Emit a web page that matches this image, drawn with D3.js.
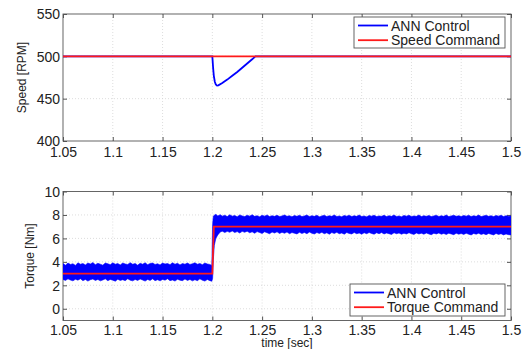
<!DOCTYPE html>
<html>
<head>
<meta charset="utf-8">
<script src="https://cdn.jsdelivr.net/npm/d3@7"></script>
<style>
  html, body { margin: 0; padding: 0; background: #fff; }
  svg { display: block; }
  text { font-family: "Liberation Sans", Arial, sans-serif; fill: #222; }
</style>
</head>
<body>
<svg id="chart" width="524" height="349"></svg>
<script>
// ---- data ----
const timeTicks = [1.05, 1.1, 1.15, 1.2, 1.25, 1.3, 1.35, 1.4, 1.45, 1.5];
const speedTicks = [400, 450, 500, 550];
const torqueTicks = [0, 2, 4, 6, 8, 10];

// Speed response of the ANN controller [time, rpm]
const speedAnn = [
  [1.05, 500], [1.2, 500], [1.2003, 495], [1.2008, 486], [1.2015, 477],
  [1.2025, 470], [1.2035, 466.8], [1.2047, 465.5], [1.206, 465.8],
  [1.21, 468.5], [1.215, 472.5], [1.22, 477], [1.225, 481.5],
  [1.23, 486.5], [1.235, 491.5], [1.24, 496.5], [1.2433, 500],
  [1.5, 500]
];
const speedCommand = [[1.05, 500], [1.5, 500]];

// Torque command [time, Nm]
const torqueCommand = [[1.05, 3], [1.2, 3], [1.2015, 7], [1.5, 7]];

// Envelope of the ripple on the ANN torque [time, low, high]
const torqueBand = [
  [1.05, 2.5, 3.85], [1.0525, 2.42, 3.72], [1.055, 2.55, 3.9], [1.0575, 2.45, 3.78],
  [1.06, 2.38, 3.84], [1.0625, 2.52, 3.7], [1.065, 2.44, 3.92], [1.0675, 2.56, 3.8],
  [1.07, 2.4, 3.86], [1.0725, 2.5, 3.74], [1.075, 2.36, 3.9], [1.0775, 2.48, 3.82],
  [1.08, 2.54, 3.94], [1.0825, 2.42, 3.76], [1.085, 2.5, 3.88], [1.0875, 2.38, 3.8],
  [1.09, 2.46, 3.72], [1.0925, 2.55, 3.9], [1.095, 2.4, 3.84], [1.0975, 2.5, 3.76],
  [1.1, 2.44, 3.92], [1.1025, 2.35, 3.8], [1.105, 2.52, 3.86], [1.1075, 2.42, 3.74],
  [1.11, 2.48, 3.9], [1.1125, 2.4, 3.82], [1.115, 2.56, 3.78], [1.1175, 2.44, 3.93],
  [1.12, 2.38, 3.8], [1.1225, 2.5, 3.86], [1.125, 2.42, 3.72], [1.1275, 2.54, 3.88],
  [1.13, 2.45, 3.8], [1.1325, 2.36, 3.92], [1.135, 2.5, 3.76], [1.1375, 2.42, 3.86],
  [1.14, 2.55, 3.9], [1.1425, 2.4, 3.78], [1.145, 2.48, 3.84], [1.1475, 2.38, 3.74],
  [1.15, 2.5, 3.9], [1.1525, 2.44, 3.82], [1.155, 2.56, 3.86], [1.1575, 2.4, 3.76],
  [1.16, 2.46, 3.92], [1.1625, 2.36, 3.8], [1.165, 2.52, 3.88], [1.1675, 2.44, 3.74],
  [1.17, 2.4, 3.86], [1.1725, 2.54, 3.8], [1.175, 2.42, 3.9], [1.1775, 2.5, 3.78],
  [1.18, 2.38, 3.84], [1.1825, 2.48, 3.92], [1.185, 2.4, 3.8], [1.1875, 2.55, 3.86],
  [1.19, 2.44, 3.76], [1.1925, 2.36, 3.9], [1.195, 2.5, 3.82], [1.1975, 2.4, 3.78],
  [1.1995, 2.35, 3.7],
  [1.2003, 2.6, 7.2], [1.201, 4.2, 7.9], [1.202, 5.4, 7.98], [1.2035, 6.0, 8.05],
  [1.2055, 6.3, 7.92], [1.208, 6.55, 8.02], [1.21, 6.62, 7.9],
  [1.2125, 6.5, 7.98], [1.215, 6.6, 7.86], [1.2175, 6.52, 8.02], [1.22, 6.64, 7.9],
  [1.2225, 6.5, 7.96], [1.225, 6.58, 7.84], [1.2275, 6.46, 8.0], [1.23, 6.6, 7.92],
  [1.2325, 6.52, 7.86], [1.235, 6.62, 7.98], [1.2375, 6.48, 7.9], [1.24, 6.56, 8.02],
  [1.2425, 6.44, 7.88], [1.245, 6.58, 7.94], [1.2475, 6.5, 7.84], [1.25, 6.42, 7.98],
  [1.2525, 6.56, 7.9], [1.255, 6.48, 8.0], [1.2575, 6.4, 7.86], [1.26, 6.54, 7.94],
  [1.2625, 6.46, 7.88], [1.265, 6.56, 7.98], [1.2675, 6.42, 7.86], [1.27, 6.52, 7.92],
  [1.2725, 6.44, 8.0], [1.275, 6.55, 7.88], [1.2775, 6.4, 7.94], [1.28, 6.5, 7.84],
  [1.2825, 6.44, 7.96], [1.285, 6.38, 7.88], [1.2875, 6.52, 7.98], [1.29, 6.42, 7.86],
  [1.2925, 6.5, 7.92], [1.295, 6.4, 8.0], [1.2975, 6.54, 7.86], [1.3, 6.44, 7.94],
  [1.3025, 6.38, 7.88], [1.305, 6.5, 7.98], [1.3075, 6.42, 7.84], [1.31, 6.52, 7.92],
  [1.3125, 6.4, 7.98], [1.315, 6.48, 7.86], [1.3175, 6.36, 7.94], [1.32, 6.5, 7.88],
  [1.3225, 6.42, 8.0], [1.325, 6.52, 7.86], [1.3275, 6.4, 7.92], [1.33, 6.46, 7.84],
  [1.3325, 6.36, 7.96], [1.335, 6.5, 7.9], [1.3375, 6.42, 7.98], [1.34, 6.38, 7.86],
  [1.3425, 6.5, 7.94], [1.345, 6.4, 7.88], [1.3475, 6.46, 8.0], [1.35, 6.36, 7.86],
  [1.3525, 6.48, 7.92], [1.355, 6.4, 7.84], [1.3575, 6.5, 7.96], [1.36, 6.42, 7.9],
  [1.3625, 6.36, 7.98], [1.365, 6.48, 7.86], [1.3675, 6.4, 7.92], [1.37, 6.5, 7.88],
  [1.3725, 6.38, 7.98], [1.375, 6.46, 7.86], [1.3775, 6.4, 7.94], [1.38, 6.34, 7.88],
  [1.3825, 6.48, 8.0], [1.385, 6.4, 7.86], [1.3875, 6.46, 7.92], [1.39, 6.36, 7.84],
  [1.3925, 6.44, 7.96], [1.395, 6.38, 7.9], [1.3975, 6.48, 7.98], [1.4, 6.4, 7.86],
  [1.4025, 6.34, 7.92], [1.405, 6.46, 7.88], [1.4075, 6.38, 8.0], [1.41, 6.44, 7.86],
  [1.4125, 6.36, 7.94], [1.415, 6.46, 7.88], [1.4175, 6.38, 7.96], [1.42, 6.32, 7.86],
  [1.4225, 6.44, 7.92], [1.425, 6.38, 7.98], [1.4275, 6.46, 7.86], [1.43, 6.36, 7.94],
  [1.4325, 6.42, 7.88], [1.435, 6.34, 8.0], [1.4375, 6.44, 7.86], [1.44, 6.38, 7.92],
  [1.4425, 6.32, 7.98], [1.445, 6.44, 7.88], [1.4475, 6.36, 7.94], [1.45, 6.42, 7.86],
  [1.4525, 6.34, 7.96], [1.455, 6.44, 7.9], [1.4575, 6.36, 7.98], [1.46, 6.3, 7.86],
  [1.4625, 6.42, 7.94], [1.465, 6.36, 7.88], [1.4675, 6.44, 8.0], [1.47, 6.34, 7.86],
  [1.4725, 6.4, 7.92], [1.475, 6.32, 7.98], [1.4775, 6.42, 7.88], [1.48, 6.36, 7.94],
  [1.4825, 6.3, 7.86], [1.485, 6.42, 7.96], [1.4875, 6.34, 7.9], [1.49, 6.4, 7.98],
  [1.4925, 6.3, 7.86], [1.495, 6.38, 7.94], [1.4975, 6.32, 7.9], [1.5, 6.3, 7.92]
];

const speedLegend = ["ANN Control", "Speed Command"];
const torqueLegend = ["ANN Control", "Torque Command"];
const blue = "#0000ff", red = "#ff1a1a";

// ---- layout ----
const svg = d3.select("#chart");
const left = 63, right = 511;
const x = d3.scaleLinear().domain([1.05, 1.5]).range([left, right]);

function panel(top, bottom, yDomain, yTicks, yLabel, labelX, xLabelY) {
  const y = d3.scaleLinear().domain(yDomain).range([bottom, top]);
  const g = svg.append("g");

  // dotted grid
  g.selectAll(".gx").data(timeTicks.slice(1, -1)).join("line")
    .attr("x1", d => x(d)).attr("x2", d => x(d))
    .attr("y1", top).attr("y2", bottom)
    .attr("stroke", "#d4d4d4").attr("stroke-width", 0.8).attr("stroke-dasharray", "1,2");
  g.selectAll(".gy").data(yTicks.filter(v => y(v) > top + 1 && y(v) < bottom - 1)).join("line")
    .attr("x1", left).attr("x2", right)
    .attr("y1", d => y(d)).attr("y2", d => y(d))
    .attr("stroke", "#d4d4d4").attr("stroke-width", 0.8).attr("stroke-dasharray", "1,2");

  // axes with inward ticks on all four sides
  const ax = (gen, tx, ty, labels) => {
    const a = g.append("g").attr("transform", `translate(${tx},${ty})`).call(gen);
    a.select(".domain").remove();
    a.selectAll(".tick line").attr("stroke", "#555");
    a.selectAll("text").attr("font-size", 14).attr("fill", "#222");
    if (!labels) a.selectAll("text").remove();
    return a;
  };
  const fmtX = d => d3.format("")(+d.toFixed(2));
  ax(d3.axisBottom(x).tickValues(timeTicks).tickSize(-4).tickPadding(0).tickFormat(fmtX), 0, bottom, true)
    .selectAll("text").attr("dy", null).attr("y", xLabelY - bottom);
  ax(d3.axisTop(x).tickValues(timeTicks).tickSize(-4).tickFormat(""), 0, top, false);
  ax(d3.axisLeft(y).tickValues(yTicks).tickSize(-4).tickPadding(3), left, 0, true)
    .selectAll("text").attr("x", -3).attr("dy", "0.35em");
  ax(d3.axisRight(y).tickValues(yTicks).tickSize(-4).tickFormat(""), right, 0, false);

  g.append("rect").attr("x", left).attr("y", top)
    .attr("width", right - left).attr("height", bottom - top)
    .attr("fill", "none").attr("stroke", "#555").attr("stroke-width", 0.9);

  g.append("text")
    .attr("transform", `translate(${labelX},${(top + bottom) / 2}) rotate(-90)`)
    .attr("text-anchor", "middle").attr("font-size", 12).text(yLabel);

  const clip = "clip" + Math.round(top);
  svg.append("clipPath").attr("id", clip).append("rect")
    .attr("x", left).attr("y", top).attr("width", right - left).attr("height", bottom - top);
  const plot = svg.append("g").attr("clip-path", `url(#${clip})`);
  return { y, plot };
}

function legend(x0, y0, w, h, names) {
  const lg = svg.append("g");
  lg.append("rect").attr("x", x0).attr("y", y0).attr("width", w).attr("height", h)
    .attr("fill", "#fff").attr("stroke", "#555").attr("stroke-width", 0.9);
  names.forEach((name, i) => {
    const cy = y0 + 8.5 + i * 14.7;
    lg.append("line").attr("x1", x0 + 4).attr("x2", x0 + 34)
      .attr("y1", cy).attr("y2", cy)
      .attr("stroke", i === 0 ? blue : red).attr("stroke-width", 1.8);
    lg.append("text").attr("x", x0 + 37).attr("y", cy).attr("dy", "0.36em")
      .attr("font-size", 14).text(name);
  });
}

// ---- speed panel ----
const sp = panel(14, 141, [400, 550], speedTicks, "Speed [RPM]", 26, 157);
const lineS = d3.line().x(d => x(d[0])).y(d => sp.y(d[1]));
sp.plot.append("path").datum(speedAnn).attr("d", lineS)
  .attr("fill", "none").attr("stroke", blue).attr("stroke-width", 1.8);
sp.plot.append("path").datum(speedCommand).attr("d", lineS)
  .attr("fill", "none").attr("stroke", red).attr("stroke-width", 1.8);
legend(354, 17, 151, 31, speedLegend);

// ---- torque panel ----
const tq = panel(191.5, 320.5, [-1, 10], torqueTicks, "Torque [Nm]", 34, 335);
const band = d3.area().x(d => x(d[0])).y0(d => tq.y(d[1])).y1(d => tq.y(d[2]));
tq.plot.append("path").datum(torqueBand).attr("d", band)
  .attr("fill", blue).attr("stroke", blue).attr("stroke-width", 0.6);
const lineT = d3.line().x(d => x(d[0])).y(d => tq.y(d[1]));
tq.plot.append("path").datum(torqueCommand).attr("d", lineT)
  .attr("fill", "none").attr("stroke", red).attr("stroke-width", 1.8);
legend(350, 284, 155, 32, torqueLegend);

svg.append("text").attr("x", (left + right) / 2).attr("y", 347)
  .attr("text-anchor", "middle").attr("font-size", 12).text("time [sec]");
</script>
</body>
</html>
